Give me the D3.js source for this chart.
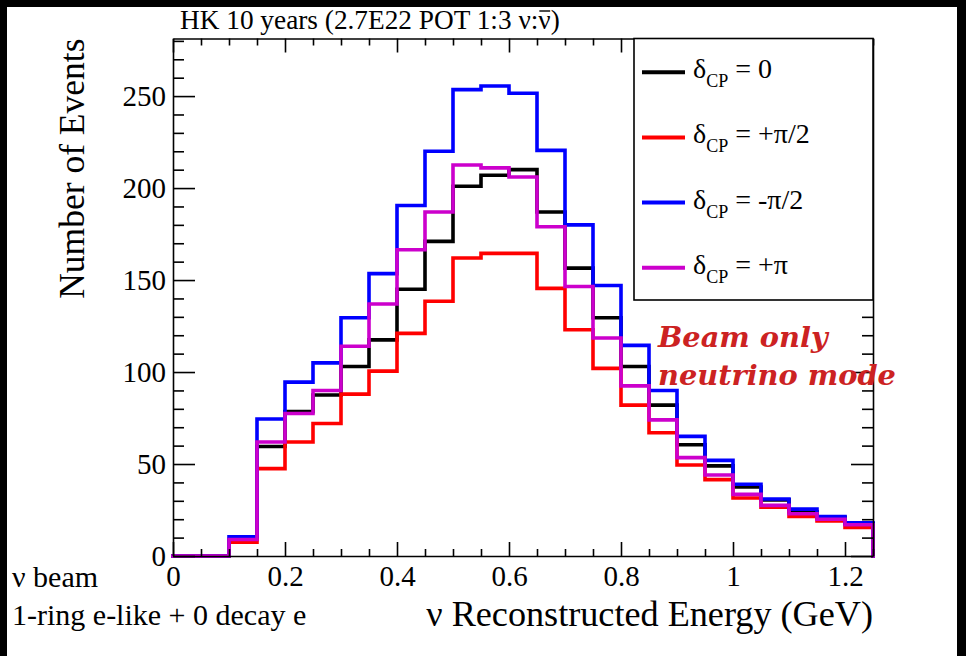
<!DOCTYPE html>
<html><head><meta charset="utf-8">
<script src="https://cdn.jsdelivr.net/npm/d3@7"></script>
<style>html,body{margin:0;padding:0;background:#fff;} svg{display:block}</style>
</head><body>
<svg id="c" width="966" height="656"></svg>
<script>
// ---- data ----
const binEdges = [0,0.05,0.1,0.15,0.2,0.25,0.3,0.35,0.4,0.45,0.5,0.55,0.6,0.65,0.7,0.75,0.8,0.85,0.9,0.95,1.0,1.05,1.1,1.15,1.2,1.25];
const deltaZero   = [0,0,9,59.5,78.5,87.5,103,117.5,145,171,201,207,210,187,156.5,129.5,103,82,60.5,49,37.5,30.5,24,21,17.5];
const deltaPlusPi2 = [0,0,7.5,47.5,62,72,88,100.5,121,138.5,162,164.5,164.5,145.5,123,102,82,67,49.5,41.5,31.5,26.5,21.5,19,15.5];
const deltaMinusPi2 = [0,0,10.5,74.5,94.5,105,129.5,153.5,190.5,220,253.5,255.5,251.5,220.5,180,147,114.5,90,65,52,39,31,25.5,21.5,18];
const deltaPi     = [0,0,9,62,77.5,90,114,137,166.5,187,212.5,211,206,179,146.5,118.5,92.5,74,53.5,44,33.5,27.5,23,20,17];
const seriesNames = ["0","+π/2","-π/2","+π"];
const seriesColors = ["#000000","#ff0000","#0000ff","#cc00cc"];
const xMajorTicks = [0,0.2,0.4,0.6,0.8,1,1.2];
const xTickLabels = ["0","0.2","0.4","0.6","0.8","1","1.2"];
const yMajorTicks = [0,50,100,150,200,250];
const yTickLabels = ["0","50","100","150","200","250"];
const xDomain = [0,1.25];
const yDomain = [0,281.3];

// ---- layout ----
const svg = d3.select("#c");
const L = 173, R = 873, T = 38.5, B = 556;
const x = d3.scaleLinear().domain(xDomain).range([L,R]);
const y = d3.scaleLinear().domain(yDomain).range([B,T]);
const serif = "'Liberation Serif','Times New Roman',serif";

svg.append("rect").attr("width",966).attr("height",656).attr("fill","#fff");

// histograms
const allSeries = [deltaZero, deltaPlusPi2, deltaMinusPi2, deltaPi];
const line = d3.line().x(d=>x(d[0])).y(d=>y(d[1]));
allSeries.forEach((vals,si)=>{
  const pts = [];
  vals.forEach((v,i)=>{ pts.push([binEdges[i],v]); pts.push([binEdges[i+1],v]); });
  pts.push([binEdges[binEdges.length-1],0]);
  svg.append("path").attr("d",line(pts)).attr("fill","none")
    .attr("stroke",seriesColors[si]).attr("stroke-width",3.6)
    .attr("stroke-linejoin","miter").attr("stroke-linecap","square");
});

// axes
const xMinor = d3.range(0,1.2501,0.05).filter(v=>Math.abs(v/0.2-Math.round(v/0.2))>1e-6);
const yMinor = d3.range(0,281,10).filter(v=>v%50!==0);
function styleAxis(g){ g.selectAll("path,line").attr("stroke","#000").attr("stroke-width",1.6); g.selectAll("text").attr("font-family",serif).attr("fill","#000"); }

// bottom
svg.append("g").attr("transform",`translate(0,${B})`)
  .call(d3.axisBottom(x).tickValues(xMajorTicks).tickFormat((d,i)=>xTickLabels[i]).tickSizeInner(-14).tickSizeOuter(0).tickPadding(9))
  .call(styleAxis).call(g=>g.selectAll("text").attr("font-size",29));
svg.append("g").attr("transform",`translate(0,${B})`)
  .call(d3.axisBottom(x).tickValues(xMinor).tickFormat("").tickSizeInner(-7).tickSizeOuter(0))
  .call(styleAxis).call(g=>g.select(".domain").remove());
// top
svg.append("g").attr("transform",`translate(0,${T})`)
  .call(d3.axisTop(x).tickValues(xMajorTicks).tickFormat("").tickSizeInner(-14).tickSizeOuter(0))
  .call(styleAxis);
svg.append("g").attr("transform",`translate(0,${T})`)
  .call(d3.axisTop(x).tickValues(xMinor).tickFormat("").tickSizeInner(-7).tickSizeOuter(0))
  .call(styleAxis).call(g=>g.select(".domain").remove());
// left
svg.append("g").attr("transform",`translate(${L},0)`)
  .call(d3.axisLeft(y).tickValues(yMajorTicks).tickFormat((d,i)=>yTickLabels[i]).tickSizeInner(-22).tickSizeOuter(0).tickPadding(7))
  .call(styleAxis).call(g=>g.selectAll("text").attr("font-size",29));
svg.append("g").attr("transform",`translate(${L},0)`)
  .call(d3.axisLeft(y).tickValues(yMinor).tickFormat("").tickSizeInner(-11).tickSizeOuter(0))
  .call(styleAxis).call(g=>g.select(".domain").remove());
// right
svg.append("g").attr("transform",`translate(${R},0)`)
  .call(d3.axisRight(y).tickValues(yMajorTicks).tickFormat("").tickSizeInner(-22).tickSizeOuter(0))
  .call(styleAxis);
svg.append("g").attr("transform",`translate(${R},0)`)
  .call(d3.axisRight(y).tickValues(yMinor).tickFormat("").tickSizeInner(-11).tickSizeOuter(0))
  .call(styleAxis).call(g=>g.select(".domain").remove());

// legend
const lg = svg.append("g");
lg.append("rect").attr("x",634).attr("y",T).attr("width",R-634).attr("height",300-T)
  .attr("fill","#fff").attr("stroke","#000").attr("stroke-width",1.6);
const legendY = d3.scalePoint().domain(seriesNames).range([72.3,267.7]);
seriesNames.forEach((n,i)=>{
  const yy = legendY(n);
  lg.append("line").attr("x1",642).attr("x2",685).attr("y1",yy).attr("y2",yy)
    .attr("stroke",seriesColors[i]).attr("stroke-width",4);
  const t = lg.append("text").attr("x",693).attr("y",yy+6).attr("font-family",serif).attr("font-size",28).attr("fill","#000");
  t.append("tspan").text("δ");
  t.append("tspan").attr("dy",9).attr("font-size",18).text("CP");
  t.append("tspan").attr("dy",-9).text(" = " + n);
});

// titles
const title = svg.append("text").attr("x",180).attr("y",29).attr("font-family",serif).attr("font-size",27.3).attr("fill","#000");
title.append("tspan").text("HK 10 years (2.7E22 POT 1:3 ν:");
const nubar = title.append("tspan").text("ν");
title.append("tspan").text(")");
// overline on anti-neutrino symbol
{
  const tn = title.node();
  const idx = "HK 10 years (2.7E22 POT 1:3 ν:".length;
  const s = tn.getStartPositionOfChar(idx), e = tn.getEndPositionOfChar(idx);
  svg.append("line").attr("x1",s.x+1).attr("x2",e.x-0.5).attr("y1",11).attr("y2",11)
    .attr("stroke","#000").attr("stroke-width",1.4);
}

svg.append("text").attr("transform",`translate(84,${T}) rotate(-90)`).attr("text-anchor","end")
  .attr("font-family",serif).attr("font-size",35.5).attr("fill","#000").text("Number of Events");
svg.append("text").attr("x",R).attr("y",626).attr("text-anchor","end")
  .attr("font-family",serif).attr("font-size",36.2).attr("fill","#000").text("ν Reconstructed Energy (GeV)");
svg.append("text").attr("x",12).attr("y",587).attr("font-family",serif).attr("font-size",30).attr("fill","#000").text("ν beam");
svg.append("text").attr("x",12).attr("y",625).attr("font-family",serif).attr("font-size",30).attr("fill","#000").text("1-ring e-like + 0 decay e");

const beam = svg.append("text").attr("font-family","'DejaVu Serif',serif").attr("font-weight","bold").attr("font-style","italic")
  .attr("font-size",28.8).attr("fill","#cc2222");
beam.append("tspan").attr("x",658).attr("y",347).text("Beam only");
beam.append("tspan").attr("x",658).attr("y",385).text("neutrino mode");

// black borders of the original picture
svg.append("rect").attr("x",0).attr("y",0).attr("width",966).attr("height",7).attr("fill","#000");
svg.append("rect").attr("x",0).attr("y",0).attr("width",7).attr("height",656).attr("fill","#000");
svg.append("rect").attr("x",957).attr("y",0).attr("width",9).attr("height",656).attr("fill","#000");
</script>
</body></html>
